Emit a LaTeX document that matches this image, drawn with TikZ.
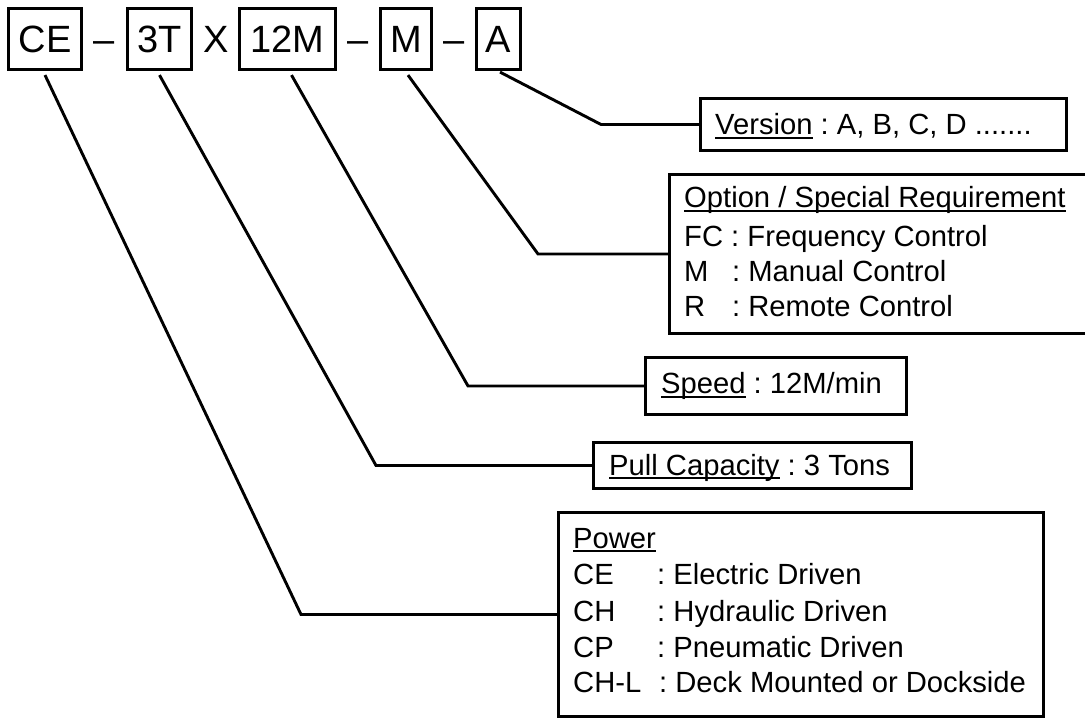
\documentclass[tikz,border=0pt]{standalone}
\usepackage{fontspec}
\setmainfont{Liberation Sans}
\frenchspacing
\newlength\myulw
\newcommand\myul[1]{\settowidth\myulw{#1}\rlap{\rule[-4.3pt]{\myulw}{2.2pt}}#1}
\begin{document}
\begin{tikzpicture}[x=1pt,y=-1pt,
  topbox/.style={draw, line width=3.2pt, inner sep=0pt, font=\fontsize{38}{44}\selectfont, minimum height=61pt},
  sepmark/.style={inner sep=0pt, anchor=base, font=\fontsize{38}{44}\selectfont},
  infobox/.style={draw, line width=3.2pt, inner sep=0pt},
  info/.style={inner sep=0pt, anchor=base west, font=\fontsize{29.2}{35}\selectfont},
  conn/.style={line width=2.9pt, line join=miter}
]
\useasboundingbox (0,0) rectangle (1085,719);
% top code boxes
\node[topbox, minimum width=73pt] (ce) at (45,39) {CE};
\node[topbox, minimum width=64pt] (tt) at (159.5,39) {3T};
\node[topbox, minimum width=96pt] (sp) at (287.5,39) {12M};
\node[topbox, minimum width=51pt] (mm) at (406,39) {M};
\node[topbox, minimum width=44pt] (aa) at (498.5,39) {A};
\node[sepmark] (d1) at (104.5,53) {–};
\node[sepmark] (xx) at (216,53) {X};
\node[sepmark] (d2) at (358,53) {–};
\node[sepmark] (d3) at (454,53) {–};
% info boxes
\node[infobox, minimum width=366pt, minimum height=52pt] (ver) at (883.5,124.5) {};
\node[infobox, minimum width=424pt, minimum height=159pt] (opt) at (881.5,254) {};
\node[infobox, minimum width=261pt, minimum height=57pt] (spd) at (776,386) {};
\node[infobox, minimum width=318pt, minimum height=46pt] (pul) at (752.5,465.5) {};
\node[infobox, minimum width=485pt, minimum height=204pt] (pw) at (801,614.5) {};
% texts
\node[info] (vt) at (715,135) {\myul{Version} : A, B, C, D .......};
\node[info] (ot1) at (684,208) {\myul{Option / Special Requirement}};
\node[info] (ot2) at (684,247) {FC : Frequency Control};
\node[info] (ot3) at (684,282) {\makebox[48pt][l]{M}: Manual Control};
\node[info] (ot4) at (684,317) {\makebox[48pt][l]{R}: Remote Control};
\node[info] (st) at (661,394) {\myul{Speed} : 12M/min};
\node[info] (pt) at (609,475) {\myul{Pull Capacity} : 3 Tons};
\node[info] (p1) at (573,548) {\myul{Power}};
\node[info] (p2) at (573,584) {\makebox[84pt][l]{CE}: Electric Driven};
\node[info] (p3) at (573,621) {\makebox[84pt][l]{CH}: Hydraulic Driven};
\node[info] (p4) at (573,657) {\makebox[84pt][l]{CP}: Pneumatic Driven};
\node[info] (p5) at (573,692) {\makebox[86pt][l]{CH-L}: Deck Mounted or Dockside};
% connector corners
\coordinate (kce) at (301,0);
\coordinate (ktt) at (376,0);
\coordinate (ksp) at (468,0);
\coordinate (kmm) at (538,0);
\coordinate (kaa) at (601,0);
\draw[conn] ([yshift=-4pt]ce.south) -- (kce |- pw.west) -- (pw.west);
\draw[conn] ([yshift=-4pt]tt.south) -- (ktt |- pul.west) -- (pul.west);
\draw[conn] ([xshift=4pt,yshift=-4pt]sp.south) -- (ksp |- spd.west) -- (spd.west);
\draw[conn] ([xshift=2pt,yshift=-4pt]mm.south) -- (kmm |- opt.west) -- (opt.west);
\draw[conn] ([xshift=1.5pt,yshift=-1pt]aa.south) -- (kaa |- ver.west) -- (ver.west);
\end{tikzpicture}
\end{document}
